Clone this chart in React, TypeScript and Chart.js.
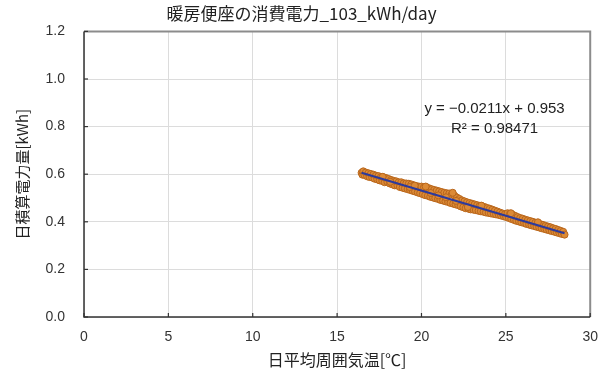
import React, { useEffect, useRef } from "react";
import { Chart, registerables } from "chart.js";

Chart.register(...registerables);

const chartTitle = "暖房便座の消費電力_103_kWh/day";
const xAxisTitle = "日平均周囲気温[℃]";
const yAxisTitle = "日積算電力量[kWh]";
const equationLines = ["y = −0.0211x + 0.953", "R² = 0.98471"];
const equationAnchorX = 24.33;
const equationAnchorY = 0.875;

const xMin = 0;
const xMax = 30;
const xStep = 5;
const yMin = 0;
const yMax = 1.2;
const yStep = 0.2;

const tempX = [
  16.45, 16.5, 16.55, 16.62, 16.7, 16.78, 16.85, 16.92, 17.0, 17.08, 17.15, 17.22, 17.3, 17.38, 17.45, 17.52,
  17.6, 17.68, 17.75, 17.82, 17.9, 17.98, 18.05, 18.12, 18.2, 18.28, 18.35, 18.42, 18.5, 18.58, 18.65, 18.72,
  18.8, 18.88, 18.95, 19.02, 19.1, 19.18, 19.25, 19.32, 19.4, 19.48, 19.55, 19.62, 19.7, 19.78, 19.85, 19.92,
  20.0, 20.08, 20.15, 20.22, 20.3, 20.38, 20.45, 20.52, 20.6, 20.68, 20.75, 20.82, 20.9, 20.98, 21.05, 21.12,
  21.2, 21.28, 21.35, 21.42, 21.5, 21.58, 21.65, 21.72, 21.8, 21.88, 21.95, 22.02, 22.1, 22.18, 22.25, 22.32,
  22.4, 22.48, 22.55, 22.62, 22.7, 22.78, 22.85, 22.92, 23.0, 23.08, 23.15, 23.22, 23.3, 23.38, 23.45, 23.52,
  23.6, 23.68, 23.75, 23.82, 23.9, 23.98, 24.05, 24.12, 24.2, 24.28, 24.35, 24.42, 24.5, 24.58, 24.65, 24.72,
  24.8, 24.88, 24.95, 25.02, 25.1, 25.18, 25.25, 25.32, 25.4, 25.48, 25.55, 25.62, 25.7, 25.78, 25.85, 25.92,
  26.0, 26.08, 26.15, 26.22, 26.3, 26.38, 26.45, 26.52, 26.6, 26.68, 26.75, 26.82, 26.9, 26.98, 27.05, 27.12,
  27.2, 27.28, 27.35, 27.42, 27.5, 27.58, 27.65, 27.72, 27.8, 27.88, 27.95, 28.02, 28.1, 28.18, 28.25, 28.32,
  28.4, 28.48, 19.3, 20.55, 21.0, 21.45, 18.15, 22.05, 21.85, 20.25, 17.7, 25.3, 23.55, 26.9, 19.6, 22.75,
];

const energyY = [
  0.606, 0.598, 0.612, 0.597, 0.607, 0.591, 0.604, 0.588, 0.601, 0.586, 0.598, 0.581, 0.594, 0.578, 0.592, 0.574,
  0.588, 0.571, 0.587, 0.566, 0.584, 0.567, 0.58, 0.561, 0.576, 0.557, 0.572, 0.553, 0.57, 0.552, 0.566, 0.546,
  0.566, 0.543, 0.562, 0.54, 0.561, 0.537, 0.56, 0.534, 0.557, 0.53, 0.553, 0.527, 0.55, 0.523, 0.548, 0.52,
  0.548, 0.516, 0.545, 0.512, 0.543, 0.509, 0.541, 0.505, 0.537, 0.502, 0.534, 0.499, 0.531, 0.496, 0.528, 0.492,
  0.525, 0.489, 0.522, 0.486, 0.52, 0.483, 0.519, 0.479, 0.516, 0.476, 0.51, 0.473, 0.502, 0.47, 0.496, 0.465,
  0.49, 0.461, 0.486, 0.457, 0.482, 0.455, 0.479, 0.452, 0.476, 0.451, 0.473, 0.449, 0.47, 0.446, 0.467, 0.444,
  0.465, 0.442, 0.462, 0.439, 0.458, 0.437, 0.455, 0.435, 0.451, 0.433, 0.447, 0.431, 0.443, 0.429, 0.439, 0.426,
  0.435, 0.423, 0.432, 0.42, 0.436, 0.416, 0.434, 0.412, 0.43, 0.408, 0.425, 0.404, 0.42, 0.401, 0.416, 0.398,
  0.413, 0.395, 0.409, 0.391, 0.406, 0.388, 0.403, 0.385, 0.4, 0.382, 0.396, 0.379, 0.393, 0.376, 0.39, 0.373,
  0.387, 0.37, 0.383, 0.367, 0.38, 0.364, 0.377, 0.361, 0.373, 0.358, 0.37, 0.355, 0.366, 0.352, 0.362, 0.349,
  0.358, 0.346, 0.546, 0.521, 0.511, 0.503, 0.568, 0.488, 0.522, 0.548, 0.589, 0.436, 0.468, 0.398, 0.552, 0.462,
];

const trendX = [16.45, 28.48];
const trendY = [0.606, 0.352];

const FONT_JP = "'Noto Sans CJK JP', 'Noto Sans', sans-serif";
const FONT_NUM = "'Liberation Sans', Arial, sans-serif";

const framePlugin = {
  id: "framePlugin",
  afterDatasetsDraw(chart: any) {
    const { ctx, chartArea, scales } = chart;
    const { left, right, top, bottom } = chartArea;
    ctx.save();
    ctx.strokeStyle = "#8c8c8c";
    ctx.lineWidth = 2;
    ctx.beginPath();
    ctx.moveTo(left, top);
    ctx.lineTo(right, top);
    ctx.lineTo(right, bottom);
    ctx.stroke();
    ctx.strokeStyle = "#333333";
    ctx.lineWidth = 1.5;
    ctx.beginPath();
    ctx.moveTo(left, top);
    ctx.lineTo(left, bottom);
    ctx.lineTo(right, bottom);
    ctx.stroke();
    ctx.lineWidth = 1.2;
    const xs = scales.x;
    xs.ticks.forEach((t: any) => {
      const px = xs.getPixelForValue(t.value);
      ctx.beginPath();
      ctx.moveTo(px, bottom);
      ctx.lineTo(px, bottom - 4);
      ctx.stroke();
    });
    const ys = scales.y;
    ys.ticks.forEach((t: any) => {
      const py = ys.getPixelForValue(t.value);
      ctx.beginPath();
      ctx.moveTo(left, py);
      ctx.lineTo(left + 4, py);
      ctx.stroke();
    });
    const ax = xs.getPixelForValue(equationAnchorX);
    const ay = ys.getPixelForValue(equationAnchorY);
    ctx.fillStyle = "#222222";
    ctx.font = `15px ${FONT_NUM}`;
    ctx.textAlign = "center";
    ctx.textBaseline = "middle";
    ctx.fillText(equationLines[0], ax, ay);
    ctx.fillText(equationLines[1], ax, ay + 20);
    ctx.restore();
  },
};

export default function App() {
  const canvasRef = useRef<HTMLCanvasElement | null>(null);

  useEffect(() => {
    document.body.style.margin = "0";
    const canvas = canvasRef.current;
    if (!canvas) return;
    const points = tempX.map((x, i) => ({ x, y: energyY[i] }));
    const trend = trendX.map((x, i) => ({ x, y: trendY[i] }));
    const chart = new Chart(canvas, {
      type: "scatter",
      data: {
        datasets: [
          {
            type: "line",
            label: "trend",
            data: trend,
            borderColor: "#2b3a9e",
            borderWidth: 2,
            pointRadius: 0,
            fill: false,
            showLine: true,
          } as any,
          {
            label: "data",
            data: points,
            backgroundColor: "#dc8a36",
            borderColor: "#b8661c",
            borderWidth: 1,
            pointRadius: 3.5,
          },
        ],
      },
      options: {
        animation: false,
        responsive: false,
        maintainAspectRatio: false,
        layout: { padding: { left: 0, right: 7, top: 0, bottom: 0 } },
        plugins: {
          legend: { display: false },
          tooltip: { enabled: false },
          title: {
            display: true,
            text: chartTitle,
            color: "#222222",
            font: { family: FONT_JP, size: 17, weight: "normal" },
            padding: { top: 3, bottom: 8 },
          },
        },
        scales: {
          x: {
            type: "linear",
            min: xMin,
            max: xMax,
            afterFit: (s: any) => {
              s.height = 57;
            },
            ticks: {
              stepSize: xStep,
              padding: 12,
              color: "#333333",
              font: { family: FONT_NUM, size: 14 },
            },
            grid: { color: "#dcdcdc", drawTicks: false, lineWidth: 1 },
            border: { display: false },
            title: {
              display: true,
              text: xAxisTitle,
              color: "#222222",
              font: { family: FONT_JP, size: 16 },
              padding: { top: 0, bottom: 4 },
            },
          },
          y: {
            type: "linear",
            min: yMin,
            max: yMax,
            afterFit: (s: any) => {
              s.width = 84;
            },
            ticks: {
              stepSize: yStep,
              padding: 19,
              color: "#333333",
              font: { family: FONT_NUM, size: 14 },
              callback: (v: any) => Number(v).toFixed(1),
            },
            grid: { color: "#dcdcdc", drawTicks: false, lineWidth: 1 },
            border: { display: false },
            title: {
              display: true,
              text: yAxisTitle,
              color: "#222222",
              font: { family: FONT_JP, size: 15 },
              padding: { top: 13, bottom: 0 },
            },
          },
        },
      } as any,
      plugins: [framePlugin],
    });
    return () => chart.destroy();
  }, []);

  return (
    <div style={{ width: 610, height: 374, background: "#ffffff" }}>
      <canvas ref={canvasRef} width={610} height={374} style={{ width: 610, height: 374, display: "block" }} />
    </div>
  );
}
